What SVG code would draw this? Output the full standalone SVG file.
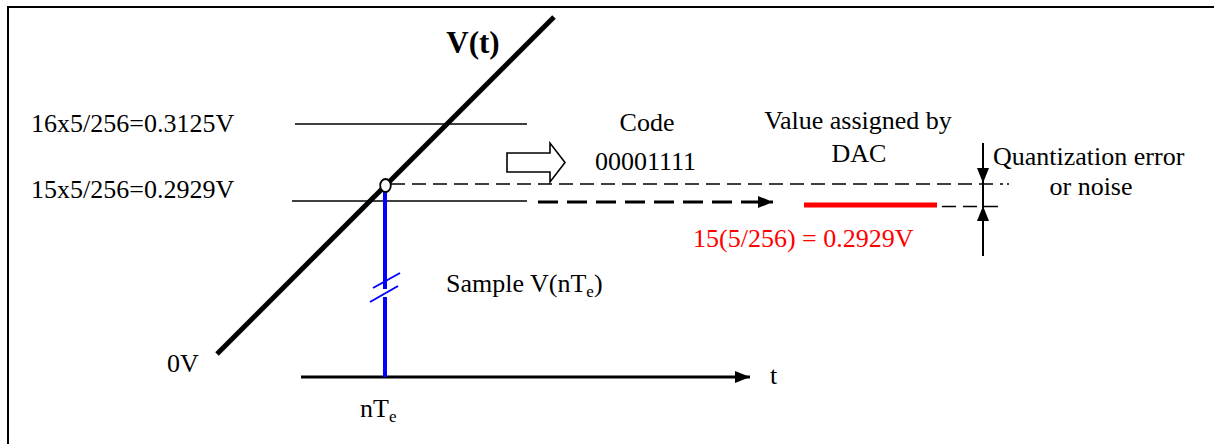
<svg xmlns="http://www.w3.org/2000/svg" width="1214" height="444" viewBox="0 0 1214 444">
<style>
text{font-family:"Liberation Serif","Times New Roman",serif;font-size:26px;fill:#000}
.red{fill:#ff0000}
.thin{stroke:#000;stroke-width:1.6;fill:none}
.dash{stroke:#000;stroke-width:1.6;stroke-dasharray:14 7;fill:none}
</style>
<defs>
<marker id="ah" viewBox="0 0 15 12" refX="15" refY="6" markerWidth="15" markerHeight="12" markerUnits="userSpaceOnUse" orient="auto">
<path d="M0,0 L15,6 L0,12 Z" fill="#000"/>
</marker>
</defs>
<rect x="0" y="0" width="1214" height="444" fill="#fff"/>
<rect id="frame" x="8" y="7" width="1230" height="460" fill="none" stroke="#000" stroke-width="2"/>

<g id="levels">
<line class="thin" x1="295" y1="124" x2="527" y2="124"/>
<line class="thin" x1="292" y1="201" x2="527" y2="201"/>
<text x="31" y="132">16x5/256=0.3125V</text>
<text x="31" y="198">15x5/256=0.2929V</text>
</g>

<g id="connectors">
<line class="dash" x1="391" y1="184" x2="1003" y2="184"/>
<line x1="1007" y1="184" x2="1009" y2="184" stroke="#000" stroke-width="1.6"/>
<line x1="538" y1="202" x2="773" y2="202" stroke="#000" stroke-width="3" stroke-dasharray="20 9" marker-end="url(#ah)"/>
<line class="dash" x1="942" y1="206.5" x2="1003" y2="206.5"/>
<line x1="301" y1="377" x2="750" y2="377" stroke="#000" stroke-width="3" marker-end="url(#ah)"/>
<line x1="983" y1="143" x2="983" y2="183" stroke="#000" stroke-width="2" marker-end="url(#ah)"/>
<line x1="983" y1="256" x2="983" y2="206" stroke="#000" stroke-width="2" marker-end="url(#ah)"/>
<line x1="983" y1="183" x2="983" y2="206" stroke="#000" stroke-width="2"/>
</g>

<g id="signal">
<line x1="217" y1="354" x2="554" y2="17" stroke="#000" stroke-width="5"/>
<text x="473" y="53" text-anchor="middle" font-weight="bold" style="font-size:31px">V(t)</text>
</g>

<g id="sample">
<line x1="385" y1="192" x2="385" y2="289" stroke="#0000ff" stroke-width="4"/>
<line x1="385" y1="297" x2="385" y2="377" stroke="#0000ff" stroke-width="4"/>
<line x1="373" y1="288" x2="400" y2="273" stroke="#0000ff" stroke-width="2"/>
<line x1="370" y1="302" x2="398" y2="286" stroke="#0000ff" stroke-width="2"/>
<ellipse cx="385.5" cy="185.5" rx="5.3" ry="6.5" fill="#fff" stroke="#000" stroke-width="1.8"/>
<text x="446" y="292">Sample V(nT<tspan style="font-size:17px" dy="5">e</tspan><tspan dy="-5">)</tspan></text>
</g>

<g id="code">
<polygon points="507,153 550,153 550,143 565,162.5 550,182 550,172 507,172" fill="#fff" stroke="#000" stroke-width="1.6"/>
<text x="647" y="131" text-anchor="middle">Code</text>
<text x="595" y="170">00001111</text>
</g>

<g id="dac">
<text x="858" y="129" text-anchor="middle">Value assigned by</text>
<text x="859" y="162" text-anchor="middle">DAC</text>
<line x1="804" y1="205" x2="937" y2="205" stroke="#ff0000" stroke-width="5"/>
<text class="red" x="693" y="247">15(5/256) = 0.2929V</text>
</g>

<g id="error">
<text x="993" y="165">Quantization error</text>
<text x="1091" y="195" text-anchor="middle">or noise</text>
</g>

<g id="axis">
<text x="167" y="372">0V</text>
<text x="770" y="384">t</text>
<text x="360" y="417">nT<tspan style="font-size:17px" dy="5">e</tspan></text>
</g>
</svg>
